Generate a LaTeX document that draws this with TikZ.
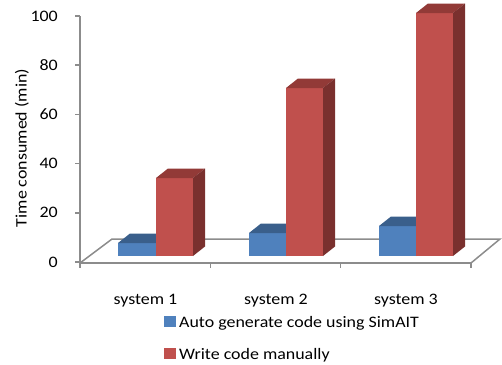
\documentclass[tikz,border=0pt]{standalone}
\usepackage{fontspec}
\setmainfont{Carlito}[FakeStretch=1.12]
\definecolor{bfront}{HTML}{4F81BD}
\definecolor{btop}{HTML}{3A5F8B}
\definecolor{bside}{HTML}{2E4D73}
\definecolor{rfront}{HTML}{C0504D}
\definecolor{rtop}{HTML}{923A37}
\definecolor{rside}{HTML}{7A302E}
\definecolor{axgray}{HTML}{8C8C8C}
\newcommand\cbar[6]{%
  \fill[#4] (#1,256) rectangle (#2,#3);
  \fill[#5] (#1,#3) -- ([shift={(12,-9.5)}]#1,#3) -- ([shift={(12,-9.5)}]#2,#3) -- (#2,#3) -- cycle;
  \fill[#6] (#2,256) -- (#2,#3) -- ([shift={(12,-9.5)}]#2,#3) -- ([shift={(12,-9.5)}]#2,256) -- cycle;
}
\begin{document}
\begin{tikzpicture}[x=1pt,y=-1pt,
  axis/.style={draw=axgray,line width=1.5pt},
  ticklab/.style={anchor=east,inner sep=0pt},
  catlab/.style={anchor=base,inner sep=0pt},
  leglab/.style={anchor=base west,inner sep=0pt},
  every node/.style={font=\fontsize{16}{19}\selectfont}]
\useasboundingbox (0,0) rectangle (502,364);
% floor
\draw[axis] (80,263) -- (112,239) -- (500,239) -- (471,263);
% y axis
\draw[axis] (80,16) -- (80,263) -- (471,263);
\foreach \yy in {16,65.2,114.4,163.6,212.8,262} \draw[axis] (75,\yy) -- (80,\yy);
\foreach \xx in {80,210.3,340.7,471} \draw[axis] (\xx,263) -- (\xx,268);
% tick labels
\node[ticklab] (t0) at (58,262) {0};
\node[ticklab] (t20) at (58,212.8) {20};
\node[ticklab] (t40) at (58,163.6) {40};
\node[ticklab] (t60) at (58,114.4) {60};
\node[ticklab] (t80) at (58,65.2) {80};
\node[ticklab] (t100) at (58,16) {100};
\node[rotate=90,inner sep=0pt] (ytitle) at (22,148) {Time consumed (min)};
% bars
\cbar{118}{156}{243}{bfront}{btop}{bside}
\cbar{156}{193}{178}{rfront}{rtop}{rside}
\cbar{249}{286}{233}{bfront}{btop}{bside}
\cbar{286}{323}{88}{rfront}{rtop}{rside}
\cbar{379}{416}{226}{bfront}{btop}{bside}
\cbar{416}{453}{13}{rfront}{rtop}{rside}
% category labels
\node[catlab] (c1) at (145.5,304.5) {system 1};
\node[catlab] (c2) at (276,304.5) {system 2};
\node[catlab] (c3) at (406,304.5) {system 3};
% legend
\fill[bfront] (164,315.5) rectangle (176,326.5);
\node[leglab] (l1) at (179,327) {Auto generate code using SimAIT};
\fill[rfront] (164,347.5) rectangle (176,358.5);
\node[leglab] (l2) at (179,359) {Write code manually};
\end{tikzpicture}
\end{document}
